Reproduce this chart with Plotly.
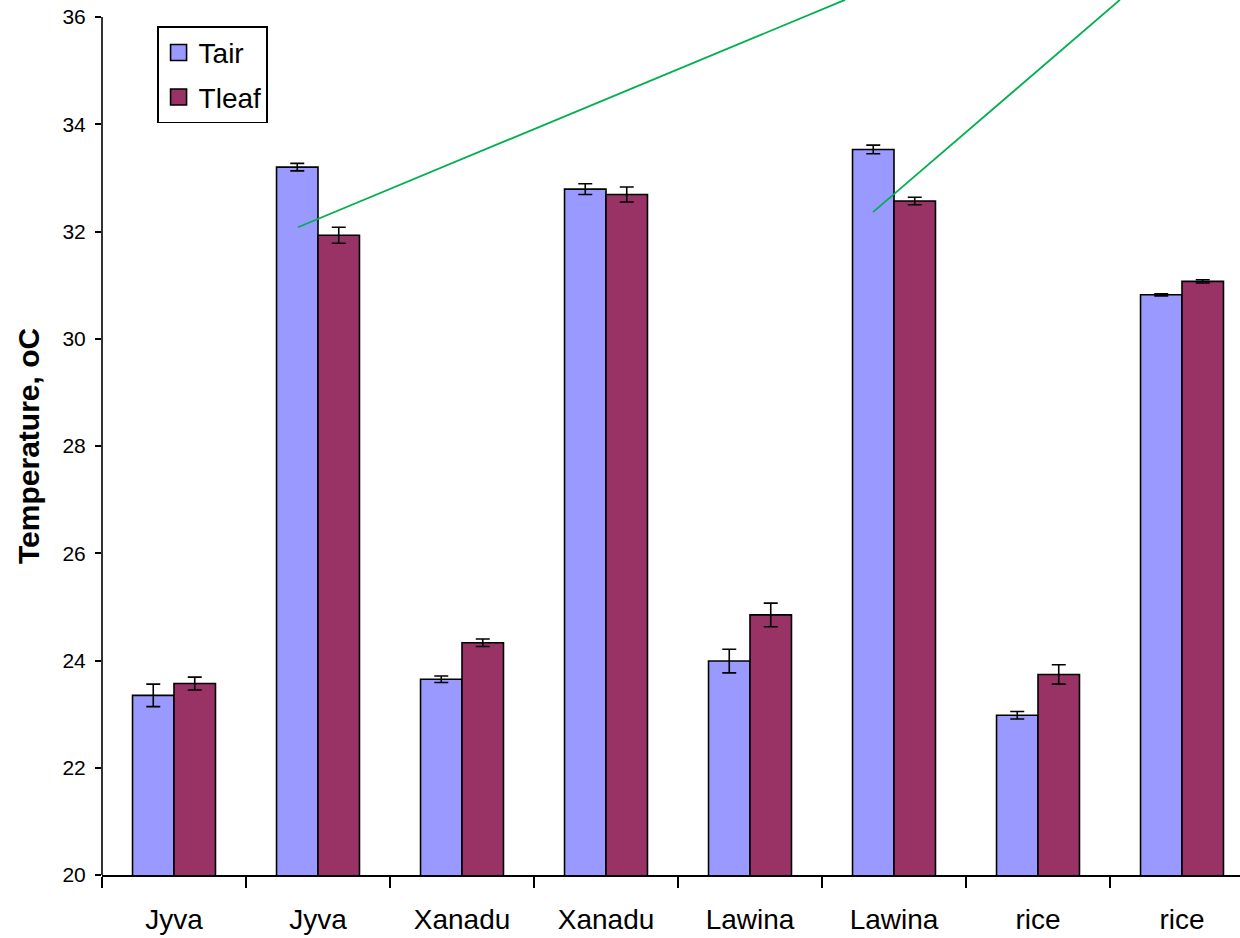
import plotly.graph_objects as go

# Categories (each cultivar appears twice: two measurement sessions)
categories = ["Jyva", "Jyva", "Xanadu", "Xanadu", "Lawina", "Lawina", "rice", "rice"]

# Mean temperatures, oC
tair = [23.35, 33.20, 23.65, 32.79, 23.99, 33.53, 22.98, 30.82]
tleaf = [23.57, 31.93, 24.33, 32.69, 24.85, 32.57, 23.74, 31.07]

# Standard errors
tair_err = [0.21, 0.07, 0.06, 0.10, 0.22, 0.08, 0.07, 0.02]
tleaf_err = [0.12, 0.15, 0.07, 0.14, 0.22, 0.07, 0.18, 0.03]

y_ticks = [20, 22, 24, 26, 28, 30, 32, 34, 36]

series = [("Tair", tair, tair_err, "#9999FF"), ("Tleaf", tleaf, tleaf_err, "#993366")]

FONT = "Liberation Sans, Arial, sans-serif"
x_pos = list(range(len(categories)))

fig = go.Figure()
for name, vals, errs, color in series:
    fig.add_trace(go.Bar(
        x=x_pos, y=vals, name=name, legendgroup=name, showlegend=False,
        marker=dict(color=color, line=dict(color="black", width=1.6)),
        error_y=dict(type="data", array=errs, color="black", thickness=1.6, width=7),
    ))
# Legend entries with larger square swatches
for name, vals, errs, color in series:
    fig.add_trace(go.Scatter(
        x=[None], y=[None], mode="markers", name=name, legendgroup=name,
        marker=dict(symbol="square", size=18, color=color,
                    line=dict(color="black", width=1.6)),
    ))

# Green pointer lines
for x0, y0, x1, y1 in [(0.861, 32.08, 4.66, 36.32), (4.854, 32.36, 6.569, 36.32)]:
    fig.add_shape(type="line", xref="x", yref="y", x0=x0, y0=y0, x1=x1, y1=y1,
                  line=dict(color="#00B050", width=1.8))

# Value axis line from 20 to 36
fig.add_shape(type="line", xref="paper", yref="y", x0=0, x1=0, y0=20, y1=36,
              line=dict(color="black", width=1.6))

fig.add_annotation(
    text="<b>Temperature, oC</b>", textangle=-90,
    xref="paper", x=0, xshift=-74, xanchor="center",
    yref="y", y=28, yanchor="middle", showarrow=False,
    font=dict(family=FONT, size=30, color="black"),
)

fig.update_layout(
    width=1240, height=938,
    margin=dict(l=102, r=0, t=0, b=63, autoexpand=False),
    paper_bgcolor="white", plot_bgcolor="white",
    barmode="group", bargap=0.424, bargroupgap=0,
    font=dict(family=FONT, color="black"),
    showlegend=True,
    legend=dict(
        x=0.0483, y=0.970, xanchor="left", yanchor="top",
        bgcolor="white", bordercolor="black", borderwidth=1.6,
        font=dict(family=FONT, size=28, color="black"),
        tracegroupgap=5, traceorder="grouped", itemsizing="trace",
        itemwidth=30,
    ),
    xaxis=dict(
        range=[-0.5, 7.5 - 14 / 144],
        tickmode="array", tickvals=x_pos, ticktext=categories,
        ticks="", showgrid=False, zeroline=False,
        showline=True, linecolor="black", linewidth=1.6,
        tickfont=dict(family=FONT, size=28, color="black"),
        ticklabelstandoff=19,
        minor=dict(ticks="outside", ticklen=11, tickwidth=1.6, tickcolor="black",
                   tickmode="linear", tick0=-0.5, dtick=1, showgrid=False),
    ),
    yaxis=dict(
        range=[20, 36 + 17 / 53.625],
        tickmode="array", tickvals=y_ticks,
        ticks="outside", ticklen=6, tickwidth=1.6, tickcolor="black",
        showgrid=False, zeroline=False, showline=False,
        tickfont=dict(family=FONT, size=21, color="black"),
        ticklabelstandoff=5,
    ),
)

fig.write_html("out.html")
